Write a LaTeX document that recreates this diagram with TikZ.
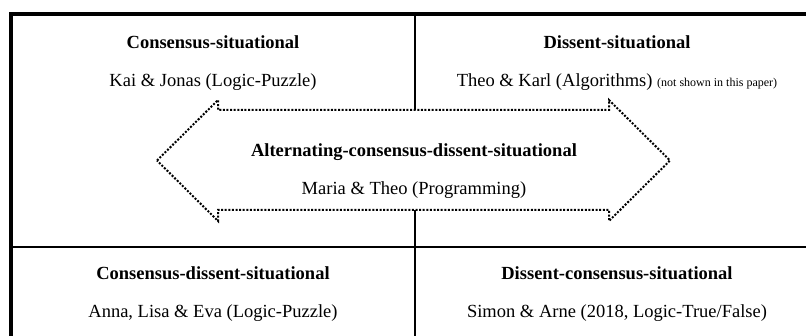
\documentclass[tikz,border=0pt]{standalone}
\usepackage{fontspec}
\setmainfont{Liberation Serif}
\usepackage{tikz}
\usetikzlibrary{positioning}
\tikzset{
  frame/.style={line width=4pt},
  divider/.style={line width=2pt},
  altshape/.style={line width=2pt,dash pattern=on 2pt off 1.6pt},
  ttl/.style={font=\bfseries\fontsize{18.5}{22}\selectfont,anchor=base,inner sep=0pt},
  pair/.style={font=\fontsize{18.5}{22}\selectfont,anchor=base,inner sep=0pt},
}

\begin{document}
\begin{tikzpicture}[x=1pt,y=-1pt]
  \useasboundingbox (0,0) rectangle (806,336);
  \draw[frame] (11,336) -- (11,14) -- (806,14);
  \draw[divider] (11,247) -- (806,247);
  \draw[divider] (415,14) -- (415,110) (415,210) -- (415,336);
  \draw[altshape] (157,160.5) -- (218,100) -- (218,110) -- (609,110) -- (609,100)
    -- (670,160.5) -- (609,221) -- (609,210) -- (218,210) -- (218,221) -- cycle;
  \node[ttl] (cs) at (213,49) {Consensus-situational};
  \node[pair,below=38pt of cs.base,anchor=base] (csp) {Kai \& Jonas (Logic-Puzzle)};
  \node[ttl] (ds) at (617,49) {Dissent-situational};
  \node[pair,below=38pt of ds.base,anchor=base] (dsp)
    {Theo \& Karl (Algorithms) {\fontsize{12}{14}\selectfont(not shown in this paper)}};
  \node[ttl] (alt) at (414,157) {Alternating-consensus-dissent-situational};
  \node[pair,below=38pt of alt.base,anchor=base] (altp) {Maria \& Theo (Programming)};
  \node[ttl] (cds) at (213,280) {Consensus-dissent-situational};
  \node[pair,below=38pt of cds.base,anchor=base] (cdsp) {Anna, Lisa \& Eva (Logic-Puzzle)};
  \node[ttl] (dcs) at (617,280) {Dissent-consensus-situational};
  \node[pair,below=38pt of dcs.base,anchor=base] (dcsp) {Simon \& Arne (2018, Logic-True/False)};
\end{tikzpicture}
\end{document}
